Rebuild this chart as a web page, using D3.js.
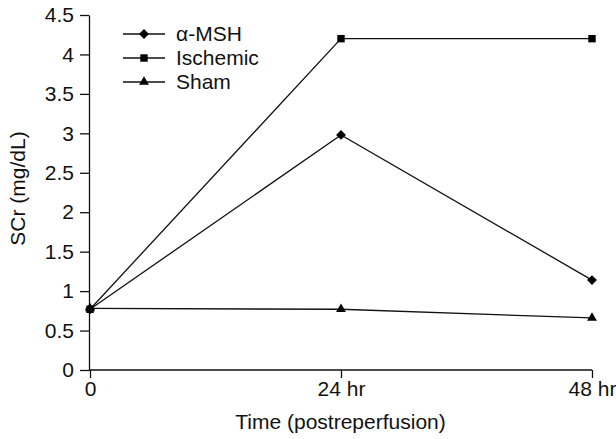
<!DOCTYPE html>
<html>
<head>
<meta charset="utf-8">
<script src="https://cdn.jsdelivr.net/npm/d3@7"></script>
<style>
  body { margin: 0; background: #fff; }
  text { font-family: "Liberation Sans", Arial, sans-serif; fill: #111; }
</style>
</head>
<body>
<svg id="chart"></svg>
<script>
// Data
const timepoints = ["0", "24 hr", "48 hr"];
const msh = [0.77, 2.98, 1.14];
const ischemic = [0.77, 4.2, 4.2];
const sham = [0.78, 0.77, 0.66];
const yTicks = [0, 0.5, 1, 1.5, 2, 2.5, 3, 3.5, 4, 4.5];

const series = [
  { name: "\u03b1-MSH", values: msh, symbol: d3.symbolDiamond2, size: 62 },
  { name: "Ischemic", values: ischemic, symbol: d3.symbolSquare2, size: 70 },
  { name: "Sham", values: sham, symbol: d3.symbolTriangle2, size: 70 }
];

// Chart Dimensions
const width = 616;
const height = 439;
const margin = { top: 15, right: 24, bottom: 69, left: 89 };
const fontSize = "21px";

const svg = d3
  .select("#chart")
  .attr("width", width)
  .attr("height", height);

// Scales
const xScale = d3
  .scalePoint()
  .domain(timepoints)
  .range([margin.left + 1, width - margin.right]);

const yScale = d3
  .scaleLinear()
  .domain([0, 4.5])
  .range([height - margin.bottom, margin.top]);

// Axes
const xAxis = d3.axisBottom(xScale).tickSize(8).tickSizeOuter(0).tickPadding(3);
const yAxis = d3
  .axisLeft(yScale)
  .tickValues(yTicks)
  .tickFormat(d3.format("~g"))
  .tickSize(9)
  .tickSizeOuter(0)
  .tickPadding(6);

const gx = svg
  .append("g")
  .attr("transform", `translate(0, ${yScale(0)})`)
  .call(xAxis);

const gy = svg
  .append("g")
  .attr("transform", `translate(${margin.left}, 0)`)
  .call(yAxis);

[gx, gy].forEach((g) => {
  g.selectAll("path, line").attr("stroke", "#111").attr("stroke-width", 1.3);
  g.selectAll("text").style("font-size", fontSize).attr("fill", "#111");
});
gx.select(".domain").attr("d", `M${margin.left},0H${width - margin.right}`);

// Axis titles
svg
  .append("text")
  .attr("x", (margin.left + width - margin.right) / 2)
  .attr("y", 429)
  .attr("text-anchor", "middle")
  .style("font-size", fontSize)
  .text("Time (postreperfusion)");

svg
  .append("text")
  .attr("transform", `translate(25, ${yScale(2.3)}) rotate(-90)`)
  .attr("text-anchor", "middle")
  .style("font-size", fontSize)
  .text("SCr (mg/dL)");

// Lines and markers
const line = d3
  .line()
  .x((d, i) => xScale(timepoints[i]))
  .y((d) => yScale(d));

series.forEach((s) => {
  svg
    .append("path")
    .datum(s.values)
    .attr("fill", "none")
    .attr("stroke", "#111")
    .attr("stroke-width", 1.3)
    .attr("d", line);

  svg
    .selectAll(null)
    .data(s.values)
    .enter()
    .append("path")
    .attr("d", d3.symbol().type(s.symbol).size(s.size))
    .attr("transform", (d, i) => `translate(${xScale(timepoints[i])}, ${yScale(d)})`)
    .attr("fill", "#000");
});

// Legend
const legend = svg.append("g").attr("transform", "translate(123, 34)");
series.forEach((s, i) => {
  const row = legend.append("g").attr("transform", `translate(0, ${i * 24})`);
  row
    .append("line")
    .attr("x1", 0)
    .attr("x2", 42)
    .attr("stroke", "#111")
    .attr("stroke-width", 1.3);
  row
    .append("path")
    .attr("d", d3.symbol().type(s.symbol).size(s.size))
    .attr("transform", "translate(21, 0)")
    .attr("fill", "#000");
  row
    .append("text")
    .attr("x", 53)
    .attr("dy", "0.35em")
    .style("font-size", fontSize)
    .text(s.name);
});
</script>
</body>
</html>
